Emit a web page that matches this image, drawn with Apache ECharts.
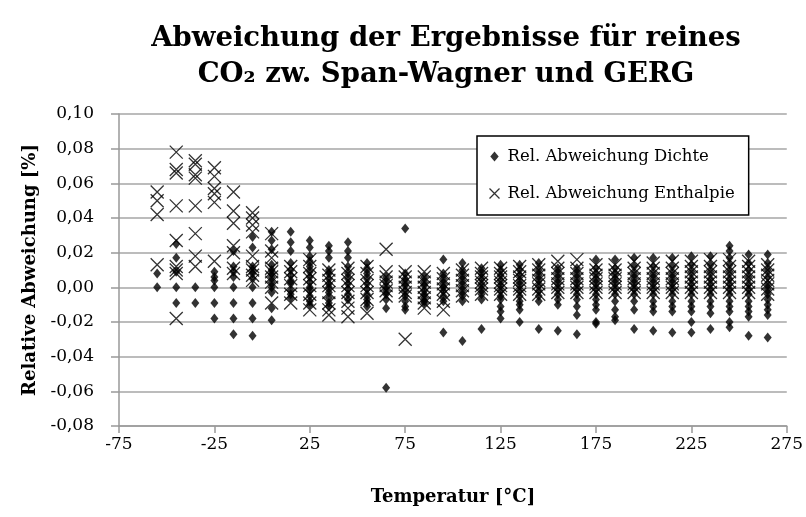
<!DOCTYPE html>
<html>
<head>
<meta charset="utf-8">
<title>Abweichung CO2</title>
<script src="https://cdn.jsdelivr.net/npm/echarts/dist/echarts.min.js"></script>
<style>
  html, body { margin: 0; padding: 0; background: #fff; }
  #chart { width: 806px; height: 517px; }
</style>
</head>
<body>
<div id="chart"></div>
<script>
// Temperaturen der Messpunkte [°C]
const temps = [-55, -45, -35, -25, -15, -5, 5, 15, 25, 35, 45, 55, 65, 75, 85, 95, 105,
  115, 125, 135, 145, 155, 165, 175, 185, 195, 205, 215, 225, 235, 245, 255, 265]

// Rel. Abweichung Dichte [%], eine Liste je Temperatur
const dichte = [
  [0.008, 0.000],
  [0.025, 0.017, 0.009, 0.000, -0.009],
  [0.000, -0.009],
  [0.009, 0.006, 0.004, 0.000, -0.009, -0.018],
  [0.021, 0.012, 0.009, 0.006, 0.000, -0.009, -0.018, -0.027],
  [0.029, 0.023, 0.012, 0.010, 0.008, 0.005, 0.000, -0.009, -0.018, -0.028],
  [0.032, 0.027, 0.022, 0.013, 0.010, 0.008, 0.006, 0.003, 0.000, -0.003, -0.012, -0.019],
  [0.032, 0.026, 0.021, 0.014, 0.010, 0.007, 0.004, 0.002, -0.002, -0.004, -0.006],
  [0.027, 0.023, 0.018, 0.015, 0.012, 0.009, 0.006, 0.003, 0.000, -0.002, -0.005, -0.008, -0.010],
  [0.024, 0.021, 0.017, 0.010, 0.008, 0.005, 0.002, 0.000, -0.003, -0.006, -0.009, -0.011],
  [0.026, 0.021, 0.017, 0.012, 0.008, 0.005, 0.002, -0.001, -0.004, -0.007],
  [0.014, 0.011, 0.008, 0.005, 0.002, -0.001, -0.004, -0.007, -0.009, -0.011],
  [0.006, 0.003, 0.000, -0.002, -0.004, -0.007, -0.012, -0.058],
  [0.034, 0.008, 0.005, 0.003, 0.001, -0.002, -0.005, -0.008, -0.011, -0.013],
  [0.006, 0.003, 0.001, -0.002, -0.004, -0.006, -0.008, -0.009],
  [0.016, 0.008, 0.005, 0.002, 0.000, -0.002, -0.005, -0.008, -0.026],
  [0.014, 0.010, 0.007, 0.004, 0.001, -0.002, -0.005, -0.008, -0.031],
  [0.011, 0.008, 0.005, 0.002, -0.001, -0.004, -0.007, -0.024],
  [0.013, 0.010, 0.007, 0.004, 0.001, -0.002, -0.005, -0.007, -0.011, -0.014, -0.018],
  [0.013, 0.010, 0.007, 0.004, 0.001, -0.002, -0.005, -0.008, -0.010, -0.013, -0.020],
  [0.014, 0.010, 0.007, 0.004, 0.001, -0.002, -0.005, -0.008, -0.024],
  [0.011, 0.008, 0.005, 0.002, -0.001, -0.004, -0.007, -0.010, -0.025],
  [0.011, 0.008, 0.005, 0.002, -0.001, -0.004, -0.007, -0.011, -0.016, -0.027],
  [0.016, 0.011, 0.008, 0.005, 0.002, -0.001, -0.004, -0.007, -0.010, -0.013, -0.020, -0.021],
  [0.016, 0.011, 0.008, 0.005, 0.002, -0.001, -0.004, -0.008, -0.013, -0.017, -0.019],
  [0.017, 0.012, 0.008, 0.005, 0.002, -0.001, -0.004, -0.008, -0.013, -0.024],
  [0.017, 0.012, 0.008, 0.005, 0.002, -0.001, -0.004, -0.008, -0.011, -0.014, -0.025],
  [0.017, 0.012, 0.008, 0.005, 0.002, -0.001, -0.004, -0.008, -0.011, -0.014, -0.026],
  [0.018, 0.013, 0.009, 0.005, 0.002, -0.001, -0.004, -0.008, -0.011, -0.014, -0.020, -0.026],
  [0.018, 0.013, 0.009, 0.005, 0.002, -0.001, -0.004, -0.008, -0.011, -0.015, -0.024],
  [0.024, 0.021, 0.017, 0.013, 0.009, 0.005, 0.002, -0.001, -0.004, -0.008, -0.011, -0.014, -0.020, -0.023],
  [0.019, 0.014, 0.010, 0.006, 0.002, -0.001, -0.004, -0.008, -0.011, -0.014, -0.017, -0.028],
  [0.019, 0.014, 0.010, 0.006, 0.002, -0.001, -0.004, -0.007, -0.010, -0.013, -0.016, -0.029]
]

// Rel. Abweichung Enthalpie [%], eine Liste je Temperatur
const enthalpie = [
  [0.055, 0.050, 0.042, 0.013],
  [0.078, 0.068, 0.066, 0.047, 0.027, 0.012, 0.010, 0.008, -0.018],
  [0.073, 0.071, 0.065, 0.063, 0.047, 0.031, 0.018, 0.012],
  [0.069, 0.064, 0.057, 0.054, 0.049, 0.015],
  [0.055, 0.044, 0.037, 0.024, 0.020, 0.011, 0.008],
  [0.043, 0.040, 0.036, 0.032, 0.018, 0.012, 0.010, 0.007, 0.004],
  [0.031, 0.021, 0.017, 0.011, 0.009, 0.006, 0.003, 0.000, -0.009],
  [0.012, 0.009, 0.005, 0.001, -0.004, -0.009],
  [0.016, 0.012, 0.008, 0.005, 0.001, -0.004, -0.009, -0.013],
  [0.010, 0.007, 0.004, 0.001, -0.003, -0.009, -0.013, -0.016],
  [0.011, 0.008, 0.004, 0.001, -0.003, -0.008, -0.012, -0.017],
  [0.012, 0.008, 0.004, 0.001, -0.003, -0.007, -0.015],
  [0.022, 0.009, 0.006, 0.003, 0.001, -0.002, -0.005],
  [0.009, 0.006, 0.003, 0.000, -0.003, -0.005, -0.030],
  [0.009, 0.006, 0.003, 0.000, -0.003, -0.006, -0.009, -0.012],
  [0.008, 0.005, 0.002, -0.001, -0.004, -0.008, -0.013],
  [0.010, 0.007, 0.004, 0.001, -0.002, -0.005],
  [0.011, 0.008, 0.006, 0.003, 0.001, -0.001, -0.004],
  [0.011, 0.008, 0.006, 0.003, 0.001, -0.001, -0.004],
  [0.012, 0.009, 0.006, 0.004, 0.001, -0.001, -0.004],
  [0.013, 0.010, 0.007, 0.004, 0.002, -0.001, -0.004],
  [0.015, 0.011, 0.008, 0.005, 0.002, 0.000, -0.003],
  [0.016, 0.011, 0.008, 0.005, 0.002, 0.000, -0.003],
  [0.013, 0.010, 0.007, 0.005, 0.002, 0.000, -0.003],
  [0.013, 0.010, 0.007, 0.005, 0.002, 0.000, -0.003],
  [0.015, 0.011, 0.008, 0.005, 0.002, 0.000, -0.003],
  [0.014, 0.011, 0.008, 0.005, 0.002, 0.000, -0.003],
  [0.015, 0.011, 0.008, 0.005, 0.002, 0.000, -0.003],
  [0.015, 0.012, 0.009, 0.006, 0.003, 0.000, -0.003],
  [0.016, 0.012, 0.009, 0.006, 0.003, 0.000, -0.003],
  [0.016, 0.012, 0.009, 0.006, 0.003, 0.000, -0.003],
  [0.015, 0.012, 0.009, 0.006, 0.003, 0.000, -0.003],
  [0.013, 0.010, 0.007, 0.004, 0.002, -0.001, -0.004]
]

// Achsenbeschriftung
const xTicks = [-75, -25, 25, 75, 125, 175, 225, 275]
const yTicks = [-0.08, -0.06, -0.04, -0.02, 0.00, 0.02, 0.04, 0.06, 0.08, 0.10]

const toPoints = (lists) => {
  const pts = []
  lists.forEach((vals, i) => vals.forEach(v => pts.push([temps[i], v])))
  return pts
}

const serif = 'DejaVu Serif'
const kreuz = 'path://M0,0L10,10M10,0L0,10'
const kreuzKlein = 'path://M0,0M14,14M2,2L12,12M12,2L2,12'
const raute = 'path://M0,0M10,10M5,1.5L8,5L5,8.5L2,5Z'

const myChart = echarts.init(document.getElementById('chart'))
const option = {
  animation: false,
  backgroundColor: '#fff',
  title: {
    text: 'Abweichung der Ergebnisse für reines\nCO₂ zw. Span-Wagner und GERG',
    left: 441,
    top: 16,
    textAlign: 'center',
    textStyle: {
      fontFamily: serif,
      fontWeight: 'bold',
      fontSize: 27.5,
      lineHeight: 36,
      color: '#000'
    }
  },
  legend: {
    orient: 'vertical',
    left: 477,
    top: 136,
    padding: [12, 14, 12, 8],
    itemGap: 19,
    itemWidth: 16,
    itemHeight: 14,
    backgroundColor: '#fff',
    borderColor: '#000',
    borderWidth: 1.5,
    textStyle: { fontFamily: serif, fontSize: 16.5, color: '#000' },
    data: [
      { name: 'Rel. Abweichung Dichte', icon: raute, itemStyle: { color: '#000' } },
      { name: 'Rel. Abweichung Enthalpie', icon: kreuzKlein,
        itemStyle: { color: 'none', borderColor: '#000', borderWidth: 1.3 } }
    ]
  },
  grid: { left: 119, right: 19, top: 114, bottom: 91 },
  xAxis: {
    type: 'value',
    min: xTicks[0],
    max: xTicks[xTicks.length - 1],
    interval: 50,
    name: 'Temperatur [°C]',
    nameLocation: 'middle',
    nameGap: 62,
    nameTextStyle: { fontFamily: serif, fontWeight: 'bold', fontSize: 18, color: '#000' },
    axisLine: { onZero: false, lineStyle: { color: '#999', width: 1.5 } },
    axisTick: { length: 7, lineStyle: { color: '#999', width: 1.5 } },
    axisLabel: { fontFamily: serif, fontSize: 17, color: '#000', margin: 10 },
    splitLine: { show: false }
  },
  yAxis: {
    type: 'value',
    min: yTicks[0],
    max: yTicks[yTicks.length - 1],
    interval: 0.02,
    name: 'Relative Abweichung [%]',
    nameLocation: 'middle',
    nameGap: 80,
    nameTextStyle: { fontFamily: serif, fontWeight: 'bold', fontSize: 18, color: '#000' },
    axisLine: { show: true, onZero: false, lineStyle: { color: '#999', width: 1.5 } },
    axisTick: { show: true, length: 8, lineStyle: { color: '#999', width: 1.5 } },
    axisLabel: {
      fontFamily: serif, fontSize: 17, color: '#000', margin: 25,
      formatter: v => v.toFixed(2).replace('.', ',')
    },
    splitLine: { lineStyle: { color: '#a6a6a6', width: 1.5 } }
  },
  series: [
    {
      name: 'Rel. Abweichung Dichte',
      type: 'scatter',
      symbol: 'diamond',
      symbolSize: [8, 10],
      itemStyle: { color: '#000' },
      data: toPoints(dichte)
    },
    {
      name: 'Rel. Abweichung Enthalpie',
      type: 'scatter',
      symbol: kreuz,
      symbolSize: 13,
      itemStyle: { color: 'none', borderColor: '#000', borderWidth: 1.3 },
      data: toPoints(enthalpie)
    }
  ]
}
myChart.setOption(option)
</script>
</body>
</html>
